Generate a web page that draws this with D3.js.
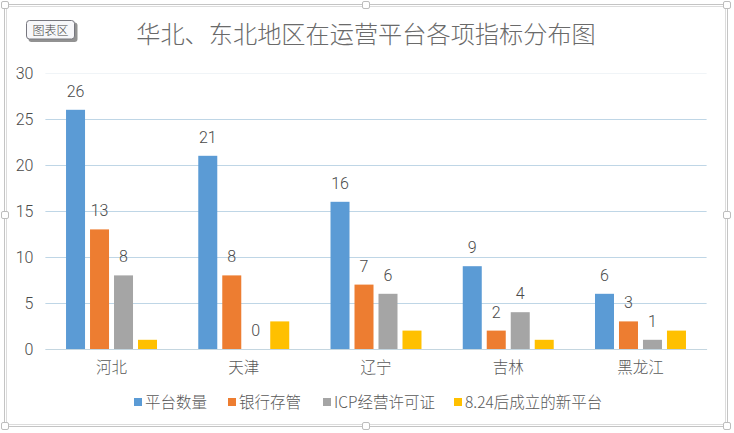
<!DOCTYPE html>
<html>
<head>
<meta charset="utf-8">
<script src="https://cdn.jsdelivr.net/npm/d3@7"></script>
<style>
  html, body { margin: 0; padding: 0; background: #fff; }
  svg { display: block; }
  text { font-family: "Noto Sans CJK SC", "Liberation Sans", sans-serif; }
</style>
</head>
<body>
<svg id="chart" width="734" height="433"></svg>
<script>
var categories = ["河北", "天津", "辽宁", "吉林", "黑龙江"];
var seriesNames = ["平台数量", "银行存管", "ICP经营许可证", "8.24后成立的新平台"];
var platforms = [26, 21, 16, 9, 6];
var custody = [13, 8, 7, 2, 3];
var icp = [8, 0, 6, 4, 1];
var newPlatforms = [1, 3, 2, 1, 2];
var yTicks = [0, 5, 10, 15, 20, 25, 30];
var colors = ["#5b9bd5", "#ed7d31", "#a5a5a5", "#ffc000"];

var allSeries = [platforms, custody, icp, newPlatforms];
var labelled = [true, true, true, false]; // yellow bars carry no value label

var svg = d3.select("#chart");
var textColor = "#595959";
var digitColor = "#4a4a4a";
var digitFont = 'Roboto, "Liberation Sans", sans-serif';

var x = d3.scaleBand().domain(categories).range([45.4, 706.6]);
var xInner = d3.scaleBand().domain(d3.range(4)).range([0, x.bandwidth()]).paddingInner(0.208).paddingOuter(0.86);
var y = d3.scaleLinear().domain([0, 30]).range([349, 73]);

// selection frame of the chart area
svg.append("rect")
    .attr("x", 4.5).attr("y", 4.5).attr("width", 723).attr("height", 422)
    .attr("fill", "#fff").attr("stroke", "#c4c4c4").attr("stroke-width", 1);
svg.append("rect")
    .attr("x", 6.5).attr("y", 6.5).attr("width", 719).attr("height", 418)
    .attr("fill", "none").attr("stroke", "#dcdcdc").attr("stroke-width", 1);

var handles = [[5, 5], [366, 5], [727, 5], [5, 215], [727, 215], [5, 426], [366, 426], [727, 426]];
svg.selectAll(".handle")
    .data(handles)
    .enter()
    .append("rect")
    .attr("class", "handle")
    .attr("x", function (d) { return d[0] - 3.5; })
    .attr("y", function (d) { return d[1] - 3.5; })
    .attr("width", 7).attr("height", 7).attr("rx", 1.5)
    .attr("fill", "#fff").attr("stroke", "#bdbdbd");

// title
svg.append("text")
    .attr("x", 366).attr("y", 43)
    .attr("text-anchor", "middle")
    .attr("font-size", 24.2)
    .attr("font-weight", 300)
    .attr("fill", "#6a6a6a")
    .text("华北、东北地区在运营平台各项指标分布图");

// "chart area" tooltip
svg.append("rect")
    .attr("x", 28.5).attr("y", 22.5).attr("width", 49).attr("height", 19.5).attr("rx", 3)
    .attr("fill", "#777").attr("opacity", 0.8);
svg.append("rect")
    .attr("x", 26.5).attr("y", 20.5).attr("width", 48).attr("height", 18.5).attr("rx", 3)
    .attr("fill", "#f7f7fa").attr("stroke", "#77777f");
svg.append("text")
    .attr("x", 50.5).attr("y", 34.5)
    .attr("text-anchor", "middle")
    .attr("font-size", 12)
    .attr("font-weight", 300)
    .attr("fill", "#444")
    .text("图表区");

// y axis: gridlines and labels only
var yAxis = svg.append("g")
    .attr("transform", "translate(45.4,0)")
    .call(d3.axisLeft(y).tickValues(yTicks).tickSize(-661.2).tickPadding(12));
yAxis.select(".domain").remove();
yAxis.selectAll(".tick line")
    .attr("stroke", function (d) { return d === 30 ? "#f0f4f7" : "#bfd6e6"; });
yAxis.selectAll(".tick text")
    .attr("fill", digitColor)
    .attr("font-size", 16)
    .attr("font-weight", 300)
    .style("font-family", digitFont);

// x axis
var xAxis = svg.append("g")
    .attr("transform", "translate(0,349)")
    .call(d3.axisBottom(x).tickSize(0).tickPadding(13));
xAxis.select(".domain").attr("stroke", "#c4d6e0");
xAxis.selectAll(".tick text")
    .attr("fill", textColor)
    .attr("font-size", 15.5)
    .attr("font-weight", 300);

// bars
var groups = svg.selectAll(".series")
    .data(allSeries)
    .enter()
    .append("g")
    .attr("class", "series")
    .attr("fill", function (d, i) { return colors[i]; });

groups.each(function (values, si) {
  var g = d3.select(this);
  g.selectAll("rect")
      .data(values)
      .enter()
      .append("rect")
      .attr("x", function (d, i) { return x(categories[i]) + xInner(si); })
      .attr("y", function (d) { return y(d); })
      .attr("width", xInner.bandwidth())
      .attr("height", function (d) { return y(0) - y(d); });

  if (labelled[si]) {
    g.selectAll("text")
        .data(values)
        .enter()
        .append("text")
        .attr("x", function (d, i) { return x(categories[i]) + xInner(si) + xInner.bandwidth() / 2; })
        .attr("y", function (d) { return y(d) - 13; })
        .attr("text-anchor", "middle")
        .attr("fill", digitColor)
        .attr("font-size", 16)
        .attr("font-weight", 300)
        .style("font-family", digitFont)
        .text(function (d) { return d; });
  }
});

// legend
var legendX = [134, 228, 323, 454];
var legend = svg.selectAll(".legend")
    .data(seriesNames)
    .enter()
    .append("g")
    .attr("class", "legend")
    .attr("transform", function (d, i) { return "translate(" + legendX[i] + ",398)"; });
legend.append("rect")
    .attr("width", 8).attr("height", 8)
    .attr("fill", function (d, i) { return colors[i]; });
legend.append("text")
    .attr("x", 11).attr("y", 9.5)
    .attr("fill", textColor)
    .attr("font-size", 15.5)
    .attr("font-weight", 300)
    .text(function (d) { return d; });
</script>
</body>
</html>
